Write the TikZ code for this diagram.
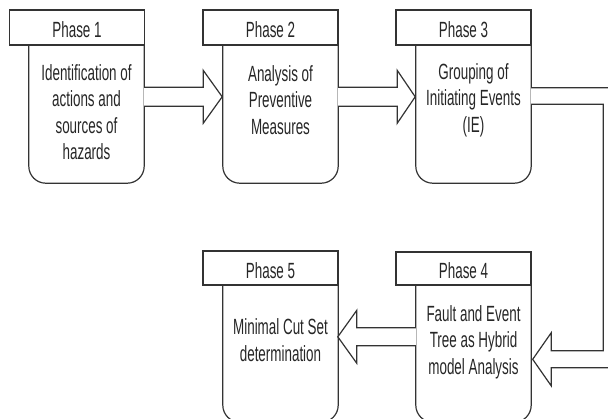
\documentclass[tikz,border=0pt]{standalone}
\usepackage{fontspec}
\setmainfont{Liberation Sans}[FakeStretch=0.61]
\begin{document}
\begin{tikzpicture}[x=1pt,y=-1pt,
  lin/.style={draw=black!80, line width=1.2pt, line join=miter},
  hdr/.style={lin, rectangle, inner sep=0pt, minimum width=135pt},
  bodybox/.style={rectangle, inner sep=0pt, minimum width=115pt},
  txt/.style={text=black!85, align=center, inner sep=0pt, font=\fontsize{22}{26.5}\selectfont},
  barrow/.style={lin, fill=white}]
\useasboundingbox (0,0) rectangle (608,418);
\clip (0,0) rectangle (608,418);
% headers
\node[hdr, minimum height=35pt] (h1) at (77,27.5) {};
\node[hdr, minimum height=35pt] (h2) at (270.5,27.5) {};
\node[hdr, minimum height=35pt] (h3) at (463.5,27.5) {};
\node[hdr, minimum height=33pt] (h4) at (463.5,268.5) {};
\node[hdr, minimum height=34pt] (h5) at (270.5,268) {};
\node[txt] (th1) at (77,30) {Phase 1};
\node[txt] (th2) at (270.5,30) {Phase 2};
\node[txt] (th3) at (463.5,30) {Phase 3};
\node[txt] (th4) at (463.5,270.5) {Phase 4};
\node[txt] (th5) at (270.5,270.5) {Phase 5};
% bodies
\node[bodybox, minimum height=138pt] (b1) at (86.5,114) {};
\node[bodybox, minimum height=138pt] (b2) at (280.5,114) {};
\node[bodybox, minimum height=138pt] (b3) at (473.5,114) {};
\node[bodybox, minimum height=137pt] (b4) at (473.5,353.5) {};
\node[bodybox, minimum height=137pt] (b5) at (280.5,353.5) {};
\foreach \b in {b1,b2,b3,b4,b5}{
  \draw[lin, rounded corners=17pt] (\b.north west) -- (\b.south west) -- (\b.south east) -- (\b.north east);
}
\node[txt] (tb1) at (86.5,112) {Identification of\\actions and\\sources of\\hazards};
\node[txt] (tb2) at (280.5,100) {Analysis of\\Preventive\\Measures};
\node[txt] (tb3) at (473.5,100) {Grouping of\\Initiating Events\\(IE)};
\node[txt] (tb4) at (473.5,342) {Fault and Event\\Tree as Hybrid\\model Analysis};
\node[txt] (tb5) at (280.5,340) {Minimal Cut Set\\determination};
% block arrows
\path (b1.north east) ++(0,52) coordinate (a1);
\path (b2.north east) ++(0,52) coordinate (a2);
\path (b3.north east) ++(0,43) coordinate (a3);
\path (b4.north west) ++(0,52) coordinate (a4);
\draw[barrow] (a1) ++(0,-9.5) -- ++(59,0) -- ++(0,-17) -- ++(19,26.5) -- ++(-19,26.5) -- ++(0,-17) -- ++(-59,0);
\draw[barrow] (a2) ++(0,-9.5) -- ++(59,0) -- ++(0,-17) -- ++(18,26.5) -- ++(-18,26.5) -- ++(0,-17) -- ++(-59,0);
\draw[barrow] (a3) -- ++(89,0) -- ++(0,280) -- ++(-69,0) -- ++(0,18) -- ++(-18.5,-26.5) -- ++(18.5,-26.5) -- ++(0,18) -- ++(52,0) -- ++(0,-246.5) -- ++(-72,0);
\draw[barrow] (a4) ++(0,-9) -- ++(-59,0) -- ++(0,-17.5) -- ++(-19,26.5) -- ++(19,26.5) -- ++(0,-17.5) -- ++(59,0);
\end{tikzpicture}
\end{document}
